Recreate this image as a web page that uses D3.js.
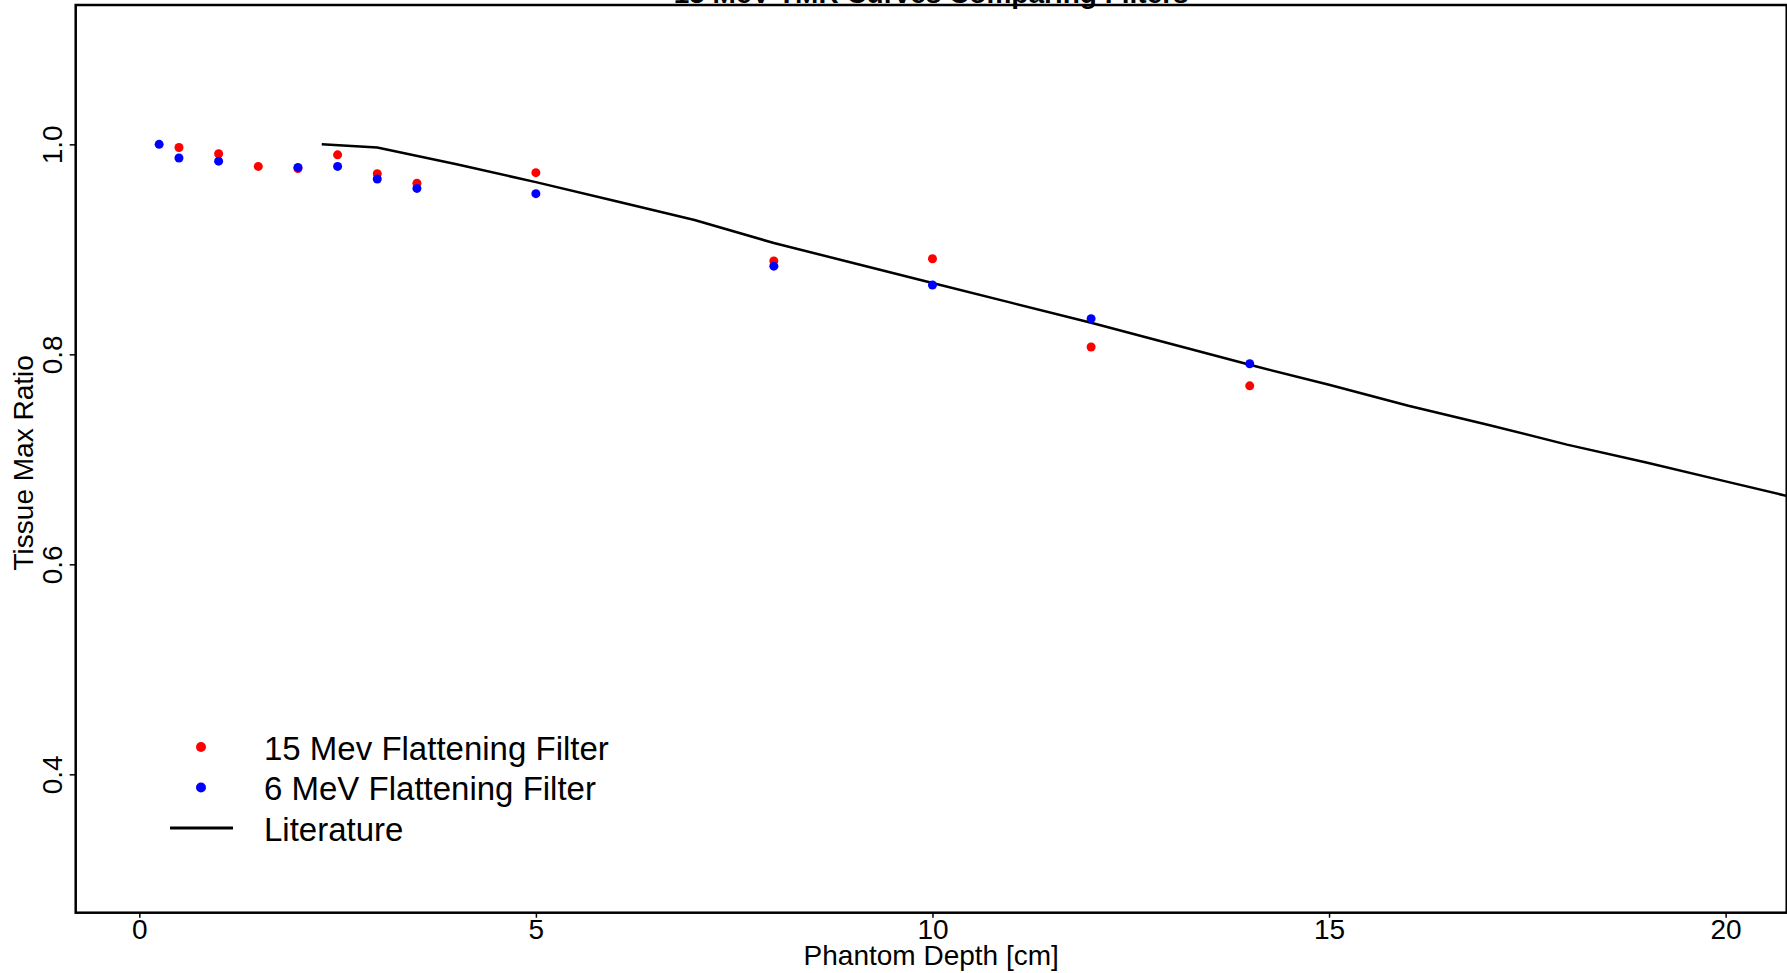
<!DOCTYPE html>
<html>
<head>
<meta charset="utf-8">
<script src="https://cdn.jsdelivr.net/npm/d3@7"></script>
<style>
  body { margin: 0; background: #fff; }
  text { font-family: "Liberation Sans", Arial, sans-serif; fill: #000; }
</style>
</head>
<body>
<svg id="chart" width="1787" height="973"></svg>
<script>
// data
var depth15 = [0.5, 1, 1.5, 2, 2.5, 3, 3.5, 5, 8, 10, 12, 14]
var tmr15   = [0.997, 0.991, 0.979, 0.977, 0.990, 0.972, 0.963, 0.973, 0.889, 0.891, 0.807, 0.770]

var depth6 = [0.25, 0.5, 1, 2, 2.5, 3, 3.5, 5, 8, 10, 12, 14]
var tmr6   = [1.000, 0.987, 0.984, 0.978, 0.979, 0.967, 0.958, 0.953, 0.884, 0.866, 0.834, 0.791]

var litDepth = [2.3, 3, 4, 5, 6, 7, 8, 9, 10, 11, 12, 13, 14, 15, 16, 17, 18, 19, 20, 21]
var litTmr   = [1.000, 0.997, 0.981, 0.964, 0.946, 0.928, 0.906, 0.887, 0.868, 0.849,
                0.830, 0.810, 0.790, 0.771, 0.751, 0.733, 0.714, 0.697, 0.679, 0.661]

var xTicks = [0, 5, 10, 15, 20]
var yTicks = [0.4, 0.6, 0.8, 1.0]

var seriesNames = ["15 Mev Flattening Filter", "6 MeV Flattening Filter", "Literature"]
var seriesColors = ["#ff0000", "#0000ff", "#000000"]

var svg = d3.select("#chart")

// plot region (note: "top" is taken by window.top)
var pLeft = 75.7, pRight = 1786.7, pTop = 5, pBottom = 912.7
var x = d3.scaleLinear().domain([-0.802, 20.77]).range([pLeft, pRight])
var y = d3.scaleLinear().domain([0.2682, 1.1327]).range([pBottom, pTop])

svg.append("clipPath").attr("id", "plotClip")
  .append("rect")
    .attr("x", pLeft).attr("y", pTop)
    .attr("width", pRight - pLeft).attr("height", pBottom - pTop)

// title, mostly off the top of the picture
svg.append("text")
  .attr("x", (pLeft + pRight) / 2)
  .attr("y", 3)
  .attr("text-anchor", "middle")
  .style("font-size", "28px")
  .style("font-weight", "bold")
  .text("15 MeV TMR Curves Comparing Filters")

// literature curve
var line = d3.line()
  .x(function(d) { return x(d[0]) })
  .y(function(d) { return y(d[1]) })

svg.append("path")
  .datum(d3.zip(litDepth, litTmr))
  .attr("clip-path", "url(#plotClip)")
  .attr("fill", "none")
  .attr("stroke", seriesColors[2])
  .attr("stroke-width", 2.5)
  .attr("d", line)

// measured points, red first so blue sits on top
function drawPoints(xs, ys, color) {
  svg.append("g")
    .selectAll("circle")
    .data(d3.zip(xs, ys))
    .join("circle")
      .attr("cx", function(d) { return x(d[0]) })
      .attr("cy", function(d) { return y(d[1]) })
      .attr("r", 4.5)
      .attr("fill", color)
}
drawPoints(depth15, tmr15, seriesColors[0])
drawPoints(depth6, tmr6, seriesColors[1])

// axes
var xAxis = svg.append("g")
  .attr("transform", "translate(0," + pBottom + ")")
  .call(d3.axisBottom(x).tickValues(xTicks).tickFormat(d3.format("d")).tickSize(5).tickPadding(1.5).tickSizeOuter(0))
xAxis.select(".domain").remove()
xAxis.selectAll("line").attr("stroke-width", 1.5)
xAxis.selectAll("text")
  .style("font-size", "28px")
  .style("font-family", "Liberation Sans, Arial, sans-serif")
  .attr("fill", "#000")

var yAxis = svg.append("g")
  .attr("transform", "translate(" + pLeft + ",0)")
  .call(d3.axisLeft(y).tickValues(yTicks).tickFormat(d3.format(".1f")).tickSize(6).tickSizeOuter(0))
yAxis.select(".domain").remove()
yAxis.selectAll("line").attr("stroke-width", 1.5)
yAxis.selectAll("text")
  .attr("x", 0)
  .attr("dy", null)
  .attr("text-anchor", "middle")
  .attr("transform", "translate(-13.7,0) rotate(-90)")
  .style("font-size", "28px")
  .style("font-family", "Liberation Sans, Arial, sans-serif")
  .attr("fill", "#000")

// box
svg.append("rect")
  .attr("x", pLeft).attr("y", pTop)
  .attr("width", pRight - pLeft).attr("height", pBottom - pTop)
  .attr("fill", "none")
  .attr("stroke", "#000")
  .attr("stroke-width", 2.5)

// axis titles
svg.append("text")
  .attr("x", (pLeft + pRight) / 2)
  .attr("y", 965)
  .attr("text-anchor", "middle")
  .style("font-size", "28px")
  .text("Phantom Depth [cm]")

svg.append("text")
  .attr("transform", "translate(33," + ((pTop + pBottom) / 2 + 4) + ") rotate(-90)")
  .attr("text-anchor", "middle")
  .style("font-size", "28px")
  .text("Tissue Max Ratio")

// legend
var legend = svg.append("g")
var rowY = [747, 787.5, 828]
seriesNames.forEach(function(name, i) {
  if (i < 2) {
    legend.append("circle")
      .attr("cx", 201).attr("cy", rowY[i]).attr("r", 5)
      .attr("fill", seriesColors[i])
  } else {
    legend.append("line")
      .attr("x1", 170).attr("x2", 233)
      .attr("y1", rowY[i]).attr("y2", rowY[i])
      .attr("stroke", seriesColors[i]).attr("stroke-width", 3)
  }
  legend.append("text")
    .attr("x", 264)
    .attr("y", rowY[i] + 12.5)
    .style("font-size", "33px")
    .text(name)
})
</script>
</body>
</html>
